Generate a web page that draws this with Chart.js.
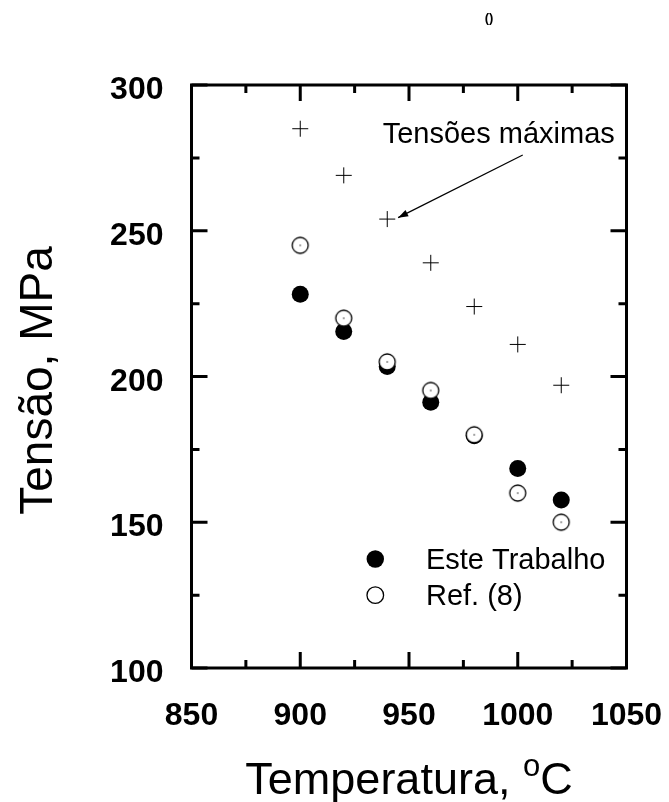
<!DOCTYPE html>
<html>
<head>
<meta charset="utf-8">
<script src="https://cdn.jsdelivr.net/npm/chart.js@4.4.1/dist/chart.umd.min.js"></script>
<style>
  body { margin: 0; background: #fff; }
</style>
</head>
<body>
<canvas id="grafico" width="669" height="802"></canvas>
<script>
// dados
const temperaturas = [900, 920, 940, 960, 980, 1000, 1020];
const tensoesMaximas = [285, 269, 254, 239, 224, 211, 197];
const esteTrabalho = [228.2, 215.4, 203.4, 191.2, 179.7, 168.4, 157.6];
const refOito = [245, 220, 205, 195.2, 180, 160, 150];

const ticksX = [850, 900, 950, 1000, 1050];
const ticksY = [100, 150, 200, 250, 300];
const menoresX = [875, 925, 975, 1025];
const menoresY = [125, 175, 225, 275];

const FONTE = "'Liberation Sans', Arial, sans-serif";

function pontos(valores) {
  return temperaturas.map((t, i) => ({ x: t, y: valores[i] }));
}

function circuloAberto() {
  const c = document.createElement('canvas');
  c.width = 20; c.height = 20;
  const g = c.getContext('2d');
  g.beginPath();
  g.arc(10, 10, 8, 0, Math.PI * 2);
  g.fillStyle = '#fff';
  g.fill();
  g.lineWidth = 1.3;
  g.strokeStyle = '#000';
  g.stroke();
  g.beginPath();
  g.arc(10, 10, 0.7, 0, Math.PI * 2);
  g.fillStyle = '#000';
  g.fill();
  return c;
}

const moldura = {
  id: 'moldura',
  afterDatasetsDraw(chart) {
    const { ctx, chartArea: a, scales: { x, y } } = chart;
    ctx.save();
    ctx.strokeStyle = '#000';
    ctx.fillStyle = '#000';
    ctx.lineWidth = 3;
    ctx.strokeRect(a.left, a.top, a.right - a.left, a.bottom - a.top);

    // marcas para dentro nos quatro lados
    const marca = (lista, tam) => {
      lista.forEach(v => {
        const px = x.getPixelForValue(v);
        ctx.beginPath();
        ctx.moveTo(px, a.bottom); ctx.lineTo(px, a.bottom - tam);
        ctx.moveTo(px, a.top); ctx.lineTo(px, a.top + tam);
        ctx.stroke();
      });
    };
    const marcaY = (lista, tam) => {
      lista.forEach(v => {
        const py = y.getPixelForValue(v);
        ctx.beginPath();
        ctx.moveTo(a.left, py); ctx.lineTo(a.left + tam, py);
        ctx.moveTo(a.right, py); ctx.lineTo(a.right - tam, py);
        ctx.stroke();
      });
    };
    marca(ticksX, 16);
    marca(menoresX, 8);
    marcaY(ticksY, 16);
    marcaY(menoresY, 8);

    // rótulos
    ctx.font = 'bold 32px ' + FONTE;
    ctx.textBaseline = 'alphabetic';
    ctx.textAlign = 'center';
    ticksX.forEach(v => ctx.fillText(String(v), x.getPixelForValue(v), a.bottom + 57));
    ctx.textAlign = 'right';
    ticksY.forEach(v => ctx.fillText(String(v), a.left - 28, y.getPixelForValue(v) + 14));

    // título do eixo x com o "o" sobrescrito
    const cx = (a.left + a.right) / 2;
    ctx.textAlign = 'left';
    ctx.font = '45px ' + FONTE;
    const p1 = 'Temperatura, ';
    const w1 = ctx.measureText(p1).width;
    const wC = ctx.measureText('C').width;
    ctx.font = '31px ' + FONTE;
    const wo = ctx.measureText('o').width;
    let xx = cx - (w1 + wo + wC) / 2;
    ctx.font = '45px ' + FONTE;
    ctx.fillText(p1, xx, a.bottom + 126);
    xx += w1;
    ctx.font = '31px ' + FONTE;
    ctx.fillText('o', xx, a.bottom + 108);
    xx += wo;
    ctx.font = '45px ' + FONTE;
    ctx.fillText('C', xx, a.bottom + 126);

    // título do eixo y
    ctx.save();
    ctx.translate(52, (a.top + a.bottom) / 2 + 4);
    ctx.rotate(-Math.PI / 2);
    ctx.textAlign = 'center';
    ctx.font = '46px ' + FONTE;
    ctx.fillText('Tensão, MPa', 0, 0);
    ctx.restore();

    // anotação com seta
    const x0 = x.getPixelForValue(1002.3), y0 = y.getPixelForValue(276);
    const x1 = x.getPixelForValue(945), y1 = y.getPixelForValue(254.5);
    ctx.lineWidth = 1.2;
    ctx.beginPath();
    ctx.moveTo(x0, y0); ctx.lineTo(x1, y1);
    ctx.stroke();
    const ang = Math.atan2(y1 - y0, x1 - x0);
    ctx.beginPath();
    ctx.moveTo(x1, y1);
    ctx.lineTo(x1 - 10 * Math.cos(ang) + 3.5 * Math.sin(ang), y1 - 10 * Math.sin(ang) - 3.5 * Math.cos(ang));
    ctx.lineTo(x1 - 10 * Math.cos(ang) - 3.5 * Math.sin(ang), y1 - 10 * Math.sin(ang) + 3.5 * Math.cos(ang));
    ctx.closePath();
    ctx.fill();
    ctx.font = '29px ' + FONTE;
    ctx.textAlign = 'left';
    ctx.fillText('Tensões máximas', x.getPixelForValue(937.9), y.getPixelForValue(280.2));

    // legenda
    const ds = chart.data.datasets;
    const mx = x.getPixelForValue(934.5);
    const tx = x.getPixelForValue(957.8);
    let my = y.getPixelForValue(137.4);
    ctx.beginPath();
    ctx.arc(mx, my, 8.7, 0, Math.PI * 2);
    ctx.fill();
    ctx.fillText(ds[1].label, tx, y.getPixelForValue(134));
    my = y.getPixelForValue(125);
    ctx.beginPath();
    ctx.arc(mx, my, 8.3, 0, Math.PI * 2);
    ctx.lineWidth = 1.3;
    ctx.stroke();
    ctx.fillText(ds[0].label, tx, y.getPixelForValue(121.6));

    // marca no topo da página
    ctx.font = 'bold 13px ' + FONTE;
    ctx.textAlign = 'center';
    ctx.fillText('()', 489, 22);
    ctx.restore();
  }
};

new Chart(document.getElementById('grafico'), {
  type: 'scatter',
  data: {
    datasets: [
      {
        label: 'Ref. (8)',
        data: pontos(refOito),
        pointStyle: circuloAberto(),
        order: 0
      },
      {
        label: 'Este Trabalho',
        data: pontos(esteTrabalho),
        pointStyle: 'circle',
        pointRadius: 8.5,
        backgroundColor: '#000',
        borderWidth: 0,
        order: 1
      },
      {
        label: 'Tensões máximas',
        data: pontos(tensoesMaximas),
        pointStyle: 'cross',
        pointRadius: 8,
        borderColor: '#000',
        borderWidth: 1,
        order: 2
      }
    ]
  },
  options: {
    responsive: false,
    animation: false,
    layout: { padding: { left: 191.5, top: 85, right: 42.5, bottom: 134 } },
    plugins: {
      legend: { display: false },
      tooltip: { enabled: false }
    },
    scales: {
      x: { type: 'linear', min: 850, max: 1050, display: false },
      y: { type: 'linear', min: 100, max: 300, display: false }
    }
  },
  plugins: [moldura]
});
</script>
</body>
</html>
